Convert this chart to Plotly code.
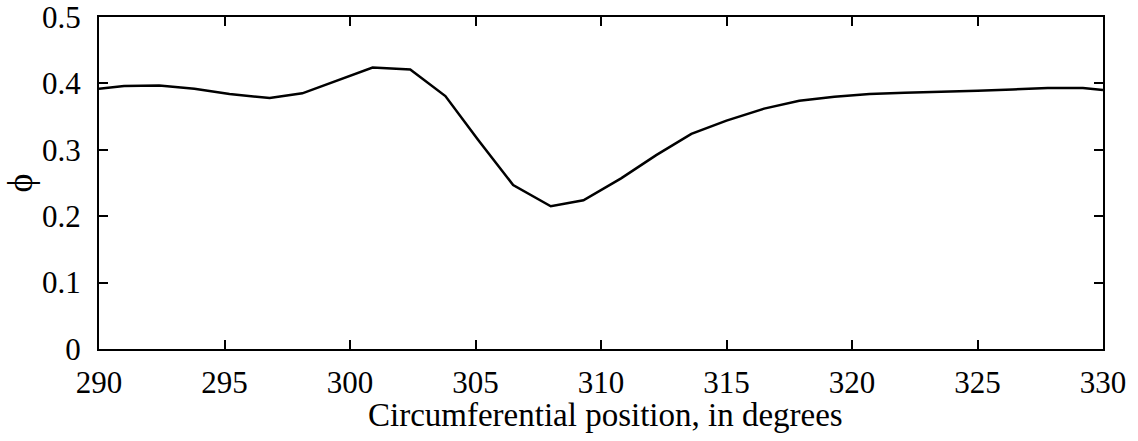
import plotly.graph_objects as go

# circumferential position (degrees) and phi values
position = [290.0, 291.0, 292.4, 293.8, 295.2, 296.8, 298.1, 299.5, 300.9, 302.4,
            303.8, 305.1, 306.5, 308.0, 309.3, 310.8, 312.2, 313.6, 315.0, 316.5,
            317.9, 319.3, 320.7, 322.1, 323.6, 325.0, 326.4, 327.8, 329.2, 330.0]
phi = [0.392, 0.396, 0.397, 0.392, 0.384, 0.378, 0.385, 0.404, 0.424, 0.421,
       0.381, 0.315, 0.247, 0.215, 0.224, 0.257, 0.292, 0.324, 0.344, 0.362,
       0.374, 0.380, 0.384, 0.386, 0.387, 0.389, 0.391, 0.393, 0.393, 0.390]

x_ticks = [290, 295, 300, 305, 310, 315, 320, 325, 330]
y_ticks = [0, 0.1, 0.2, 0.3, 0.4, 0.5]
y_tick_labels = ['0', '0.1', '0.2', '0.3', '0.4', '0.5']

tick_font = dict(family='Liberation Serif', size=31, color='black')
title_font = dict(family='Liberation Serif', size=33, color='black')
phi_font = dict(family='Liberation Serif', size=36, color='black')

fig = go.Figure(go.Scatter(
    x=position, y=phi,
    mode='lines',
    line=dict(color='black', width=2.5),
    hoverinfo='skip'
))

axis_common = dict(
    showline=True, linecolor='black', linewidth=2,
    mirror='ticks', ticks='inside', ticklen=9, tickwidth=1.5, tickcolor='black',
    showgrid=False, zeroline=False, tickfont=tick_font, automargin=False,
    ticklabeloverflow='allow'
)

fig.update_layout(
    width=1138, height=441,
    margin=dict(l=99, r=35, t=17, b=92),
    plot_bgcolor='white', paper_bgcolor='white',
    showlegend=False,
    font=tick_font,
    xaxis=dict(range=[290, 330], tickvals=x_ticks, ticklabelstandoff=5,
               **axis_common),
    yaxis=dict(range=[0, 0.5], tickvals=y_ticks, ticktext=y_tick_labels, ticklabelstandoff=10,
               title=dict(text='ϕ', font=phi_font, standoff=21),
               **axis_common),
)

# x title sits a bit closer to the tick labels than plotly's axis title would
fig.add_annotation(
    text='Circumferential position, in degrees',
    xref='paper', yref='paper', x=0.504, y=-0.138,
    xanchor='center', yanchor='top', showarrow=False, font=title_font
)

# drop the default body margin so the figure fills the window exactly
fig.write_html("out.html", config={'displayModeBar': False},
               post_script="document.body.style.margin='0';")
